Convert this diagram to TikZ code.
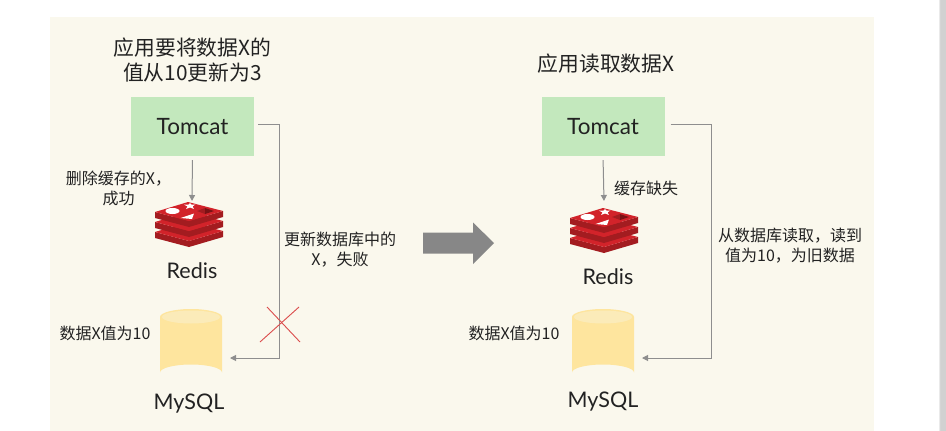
\documentclass[tikz,border=0pt]{standalone}
\usepackage{fontspec}
\setmainfont{Noto Sans CJK SC}
\newfontfamily\latinfont{Lato}
\usetikzlibrary{arrows.meta}
\definecolor{panelbg}{HTML}{FAF8ED}
\definecolor{boxgreen}{HTML}{C3E8BD}
\definecolor{dbbody}{HTML}{FEE59E}
\definecolor{dbtop}{HTML}{FBEBB9}
\definecolor{redisred}{HTML}{D2232A}
\definecolor{redisdark}{HTML}{A31C20}
\definecolor{redisicon}{HTML}{7A1215}
\definecolor{linegray}{HTML}{8E8E8E}
\definecolor{txt}{HTML}{222222}
\tikzset{
  x=1pt,y=-1pt,
  every node/.style={text=txt,inner sep=0pt,align=center},
  boxnode/.style={fill=boxgreen,minimum width=123pt,minimum height=59pt,font=\latinfont\fontsize{22.5}{26}\selectfont},
  title/.style={font=\fontsize{20.8}{25}\selectfont},
  lab/.style={font=\fontsize{16}{20}\selectfont},
  brand/.style={font=\latinfont\fontsize{21.5}{24}\selectfont},
  slot/.style={minimum width=0pt,minimum height=0pt},
  conn/.style={draw=linegray,line width=1pt,-{Triangle[length=6pt,width=6pt]}},
  cross/.style={draw=red!80!black!70!white,line width=0.9pt},
  redislogo/.pic={
    \foreach \o in {20,10,0}{
      \fill[redisdark] (-34,-13+\o) -- (0,-4+\o) -- (34,-14+\o) -- (34,-8+\o) -- (0,2+\o) -- (-34,-7+\o) -- cycle;
      \fill[redisred] (-34,-13+\o) -- (-1,-23+\o) -- (34,-14+\o) -- (0,-4+\o) -- cycle;
    }
    \fill[white] (-16.5,-14) ellipse (7 and 3);
    \fill[white] (1,-22) -- (2.6,-20.3) -- (6.5,-20.5) -- (3.6,-18.6) -- (5,-16) -- (1,-17.5) -- (-3,-16) -- (-1.5,-18.6) -- (-5,-20.3) -- (-0.5,-20.3) -- cycle;
    \fill[white] (-8.5,-7) -- (5,-11.5) -- (3,-6) -- cycle;
    \fill[redisdark] (8,-14) -- (16,-17) -- (16,-11) -- cycle;
    \fill[redisicon] (16,-17) -- (25,-14) -- (16,-11) -- cycle;
  },
  dbcyl/.pic={
    \fill[dbbody] (-31,-27.5) -- (-31,28) arc[start angle=180,end angle=360,x radius=31,y radius=8] -- (31,-27.5) arc[start angle=0,end angle=-180,x radius=31,y radius=8] -- cycle;
    \fill[dbtop] (0,-27.5) ellipse (29 and 6.5);
  }
}
\begin{document}
\begin{tikzpicture}
\useasboundingbox (0,0) rectangle (946,431);
\fill[white] (0,0) rectangle (946,431);
\fill[panelbg] (50,17) rectangle (874,431);
\shade[left color=white,right color=black!25] (938,0) rectangle (941,431);
\fill[black!18] (941,0) rectangle (946,431);

% left
\node[title] (titleL) at (192.5,60) {应用要将数据X的\\值从10更新为3};
\node[boxnode] (tomcatL) at (192.5,126.5) {\raisebox{1pt}{Tomcat}};
\node[slot] (redisL) at (189,225) {};
\pic at (redisL) {redislogo};
\coordinate (redisInL) at (192,201);
\node[brand] (redisTextL) at (192,271) {Redis};
\node[slot] (mysqlL) at (191,344.5) {};
\pic at (mysqlL) {dbcyl};
\coordinate (mysqlInL) at (230,358);
\coordinate (cornerAL) at (279,124);
\coordinate (cornerBL) at (279,358);
\node[brand] (mysqlTextL) at (189,404) {MySQL};
\node[lab] (delLab) at (118.5,188) {删除缓存的X，\\成功};
\node[lab] (updLab) at (340,250) {更新数据库中的\\X，失败};
\node[lab] (valL) at (105,333) {数据X值为10};
\draw[conn,shorten <=4pt] (tomcatL.south) -- (redisInL);
\draw[conn,shorten <=4pt] (tomcatL.east |- cornerAL) -- (cornerAL) -- (cornerBL) -- (mysqlInL);
\coordinate (crossA) at (267,307);
\coordinate (crossB) at (300,342);
\coordinate (crossC) at (299,307);
\coordinate (crossD) at (260,342);
\draw[cross] (crossA) -- (crossB);
\draw[cross] (crossC) -- (crossD);

% big arrow
\coordinate (bigArrow) at (423,243);
\fill[linegray!95!black] (bigArrow) ++(0,-10.5) -- ++(50,0) -- ++(0,-10) -- (494,243) -- (473,264) -- (473,253.5) -- (423,253.5) -- cycle;

% right
\node[title] (titleR) at (606,64) {应用读取数据X};
\node[boxnode] (tomcatR) at (603,126.5) {\raisebox{1pt}{Tomcat}};
\node[slot] (redisR) at (604,231) {};
\pic at (redisR) {redislogo};
\coordinate (redisInR) at (604,201);
\node[brand] (redisTextR) at (608,277) {Redis};
\node[slot] (mysqlR) at (603,344.5) {};
\pic at (mysqlR) {dbcyl};
\coordinate (mysqlInR) at (642,358);
\coordinate (cornerAR) at (711,124);
\coordinate (cornerBR) at (711,358);
\node[brand] (mysqlTextR) at (603,402) {MySQL};
\node[lab] (missLab) at (646,188) {缓存缺失};
\node[lab] (readLab) at (790,246) {从数据库读取，读到\\值为10，为旧数据};
\node[lab] (valR) at (514,333) {数据X值为10};
\draw[conn,shorten <=4pt] (tomcatR.south) -- (redisInR);
\draw[conn,shorten <=6pt] (tomcatR.east |- cornerAR) -- (cornerAR) -- (cornerBR) -- (mysqlInR);
\end{tikzpicture}
\end{document}
